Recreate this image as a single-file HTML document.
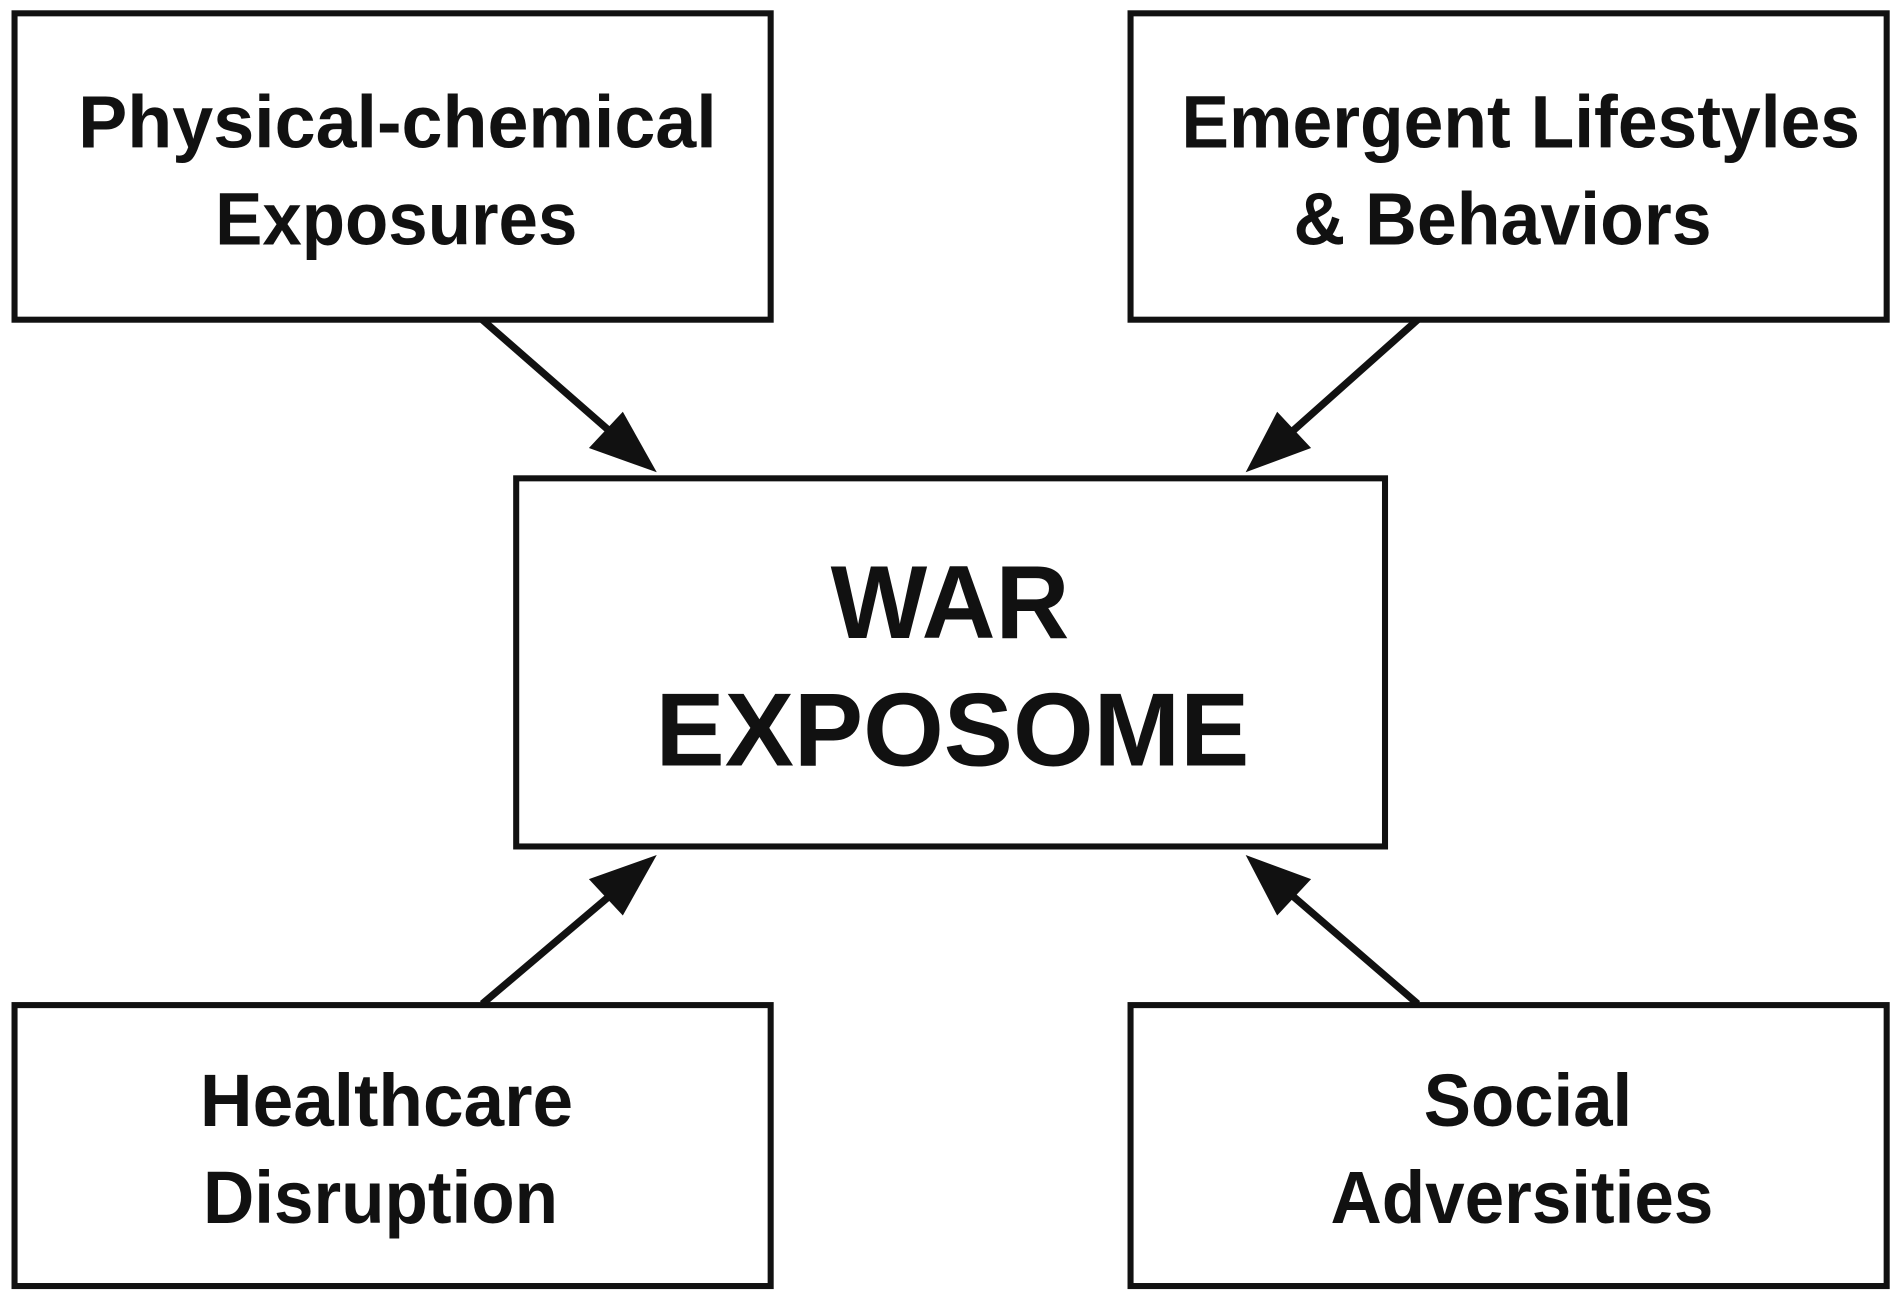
<!DOCTYPE html>
<html><head><style>html,body{margin:0;padding:0;background:#fff}svg{display:block}</style></head>
<body>
<svg width="1900" height="1303" viewBox="0 0 1568 1076" preserveAspectRatio="none" xmlns="http://www.w3.org/2000/svg">
<g fill="#fff" stroke="#111" stroke-width="5">
<rect x="12" y="11" width="624" height="253"/>
<rect x="933" y="11" width="624" height="253"/>
<rect x="426" y="395" width="717" height="304"/>
<rect x="12" y="830" width="624" height="232"/>
<rect x="933" y="830" width="624" height="232"/>
</g>
<g stroke="#111" stroke-width="6">
<line x1="398" y1="264" x2="510" y2="362"/>
<line x1="1170" y1="264" x2="1060" y2="362"/>
<line x1="398" y1="829" x2="510" y2="734"/>
<line x1="1170" y1="829" x2="1060" y2="734"/>
</g>
<g fill="#111">
<polygon points="542,390 486,370 514,340"/>
<polygon points="1028,390 1054,340 1082,370"/>
<polygon points="542,706 514,756 486,726"/>
<polygon points="1028,706 1082,726 1054,756"/>
</g>
<g font-family="Liberation Sans, sans-serif" font-weight="bold" fill="#111" text-anchor="middle" font-size="61">
<text x="328" y="122" textLength="527" lengthAdjust="spacingAndGlyphs">Physical-chemical</text>
<text x="327" y="202" textLength="299" lengthAdjust="spacingAndGlyphs">Exposures</text>
<text x="1255" y="122" textLength="560" lengthAdjust="spacingAndGlyphs">Emergent Lifestyles</text>
<text x="1240" y="202" textLength="345" lengthAdjust="spacingAndGlyphs">&amp; Behaviors</text>
<text x="319" y="930" textLength="308" lengthAdjust="spacingAndGlyphs">Healthcare</text>
<text x="314" y="1010" textLength="293" lengthAdjust="spacingAndGlyphs">Disruption</text>
<text x="1261" y="930" textLength="172" lengthAdjust="spacingAndGlyphs">Social</text>
<text x="1256" y="1010" textLength="316" lengthAdjust="spacingAndGlyphs">Adversities</text>
<text x="784" y="527" font-size="86" textLength="197" lengthAdjust="spacingAndGlyphs">WAR</text>
<text x="786" y="632" font-size="86" textLength="490" lengthAdjust="spacingAndGlyphs">EXPOSOME</text>
</g>
</svg>
</body></html>
